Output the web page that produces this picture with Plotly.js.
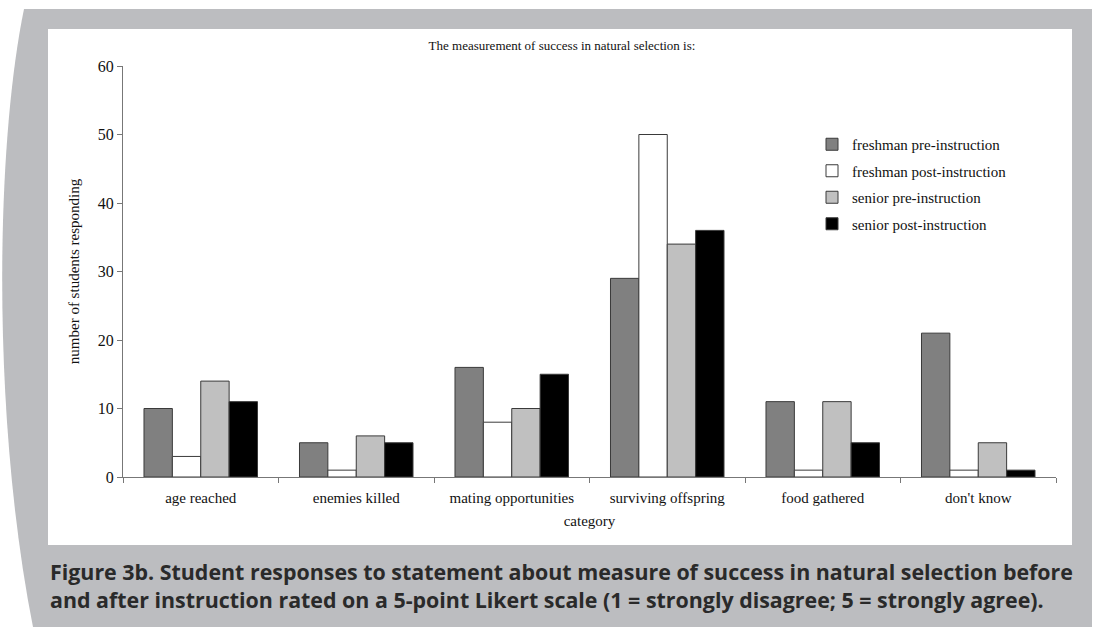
<!DOCTYPE html>
<html><head><meta charset="utf-8">
<script src="https://cdn.plot.ly/plotly-3.0.1.min.js"></script>
<style>html,body{margin:0;padding:0;background:#fff;} #chart{width:1096px;height:627px;}</style>
</head><body><div id="chart"></div>
<script>
// ---- data ----
const categories = ["age reached", "enemies killed", "mating opportunities", "surviving offspring", "food gathered", "don't know"];
const seriesNames = ["freshman pre-instruction", "freshman post-instruction", "senior pre-instruction", "senior post-instruction"];
const freshmanPre = [10, 5, 16, 29, 11, 21];
const freshmanPost = [3, 1, 8, 50, 1, 1];
const seniorPre = [14, 6, 10, 34, 11, 5];
const seniorPost = [11, 5, 15, 36, 5, 1];
const yTicks = [0, 10, 20, 30, 40, 50, 60];
const chartTitle = "The measurement of success in natural selection is:";
const xTitle = "category";
const yTitle = "number of students responding";
const captionLines = [
  "Figure 3b. Student responses to statement about measure of success in natural selection before",
  "and after instruction rated on a 5-point Likert scale (1 = strongly disagree; 5 = strongly agree)."
];

// ---- styling ----
const seriesValues = [freshmanPre, freshmanPost, seniorPre, seniorPost];
const seriesColors = ["#808080", "#ffffff", "#c0c0c0", "#000000"];
const FW = 1096, FH = 627;
const M = {l: 123, r: 40, t: 66, b: 150};
const PW = FW - M.l - M.r, PH = FH - M.t - M.b;
const px = v => (v - M.l) / PW;
const py = v => (FH - M.b - v) / PH;
const serif = "'Liberation Serif', 'Times New Roman', serif";
const frameGray = "#bcbdc0";

const traces = seriesNames.map((name, i) => ({
  type: "bar",
  name: name,
  x: categories,
  y: seriesValues[i],
  legendgroup: "g" + i,
  marker: {color: seriesColors[i], line: {color: "#3a3a3a", width: 1}},
  hoverinfo: "x+y+name"
}));

const framePath = `M ${px(24)},${py(9)} L ${px(1092)},${py(9)} L ${px(1092)},${py(627)} L ${px(33)},${py(627)} C ${px(-8)},${py(420)} ${px(-5)},${py(150)} ${px(24)},${py(9)} Z`;

const layout = {
  width: FW, height: FH,
  margin: M,
  paper_bgcolor: "#ffffff",
  plot_bgcolor: "rgba(0,0,0,0)",
  font: {family: serif, color: "#111", size: 15},
  barmode: "group",
  bargap: 0.27,
  bargroupgap: 0,
  showlegend: true,
  legend: {
    x: px(812), xanchor: "left", y: py(128), yanchor: "top",
    bgcolor: "rgba(0,0,0,0)", font: {family: serif, size: 15, color: "#111"},
    traceorder: "grouped", tracegroupgap: 4, itemwidth: 30
  },
  title: {
    text: chartTitle, x: 562 / FW, xanchor: "center", y: 1 - 45 / FH, yanchor: "middle",
    font: {family: serif, size: 13, color: "#111"}
  },
  xaxis: {
    type: "category",
    showline: true, linecolor: "#777", linewidth: 1,
    ticks: "outside", tickson: "boundaries", ticklen: 5, tickcolor: "#777",
    ticklabelstandoff: 7,
    showgrid: false, zeroline: false,
    tickfont: {family: serif, size: 15, color: "#111"},
    title: {text: xTitle, font: {family: serif, size: 15, color: "#111"}, standoff: 10}
  },
  yaxis: {
    range: [0, 60], tickvals: yTicks, ticktext: yTicks.map(String),
    showline: true, linecolor: "#777", linewidth: 1,
    ticks: "outside", ticklen: 5, tickcolor: "#777",
    showgrid: false, zeroline: false,
    tickfont: {family: serif, size: 16, color: "#111"},
    title: {text: yTitle, font: {family: serif, size: 15, color: "#111"}, standoff: 14}
  },
  shapes: [
    {type: "path", xref: "paper", yref: "paper", path: framePath, fillcolor: frameGray, line: {width: 0}, layer: "below"},
    {type: "rect", xref: "paper", yref: "paper", x0: px(48), x1: px(1072), y0: py(545), y1: py(29), fillcolor: "#ffffff", line: {width: 0}, layer: "below"}
  ],
  annotations: [{
    xref: "paper", yref: "paper", x: px(48), y: py(585), xanchor: "left", yanchor: "middle",
    align: "left", showarrow: false,
    text: captionLines.join("<br>"),
    font: {family: "'Open Sans', 'Noto Sans', sans-serif", size: 21.4, color: "#2a2a2a", weight: "bold"}
  }]
};

Plotly.newPlot("chart", traces, layout, {displayModeBar: false, staticPlot: false});
</script>
</body></html>
